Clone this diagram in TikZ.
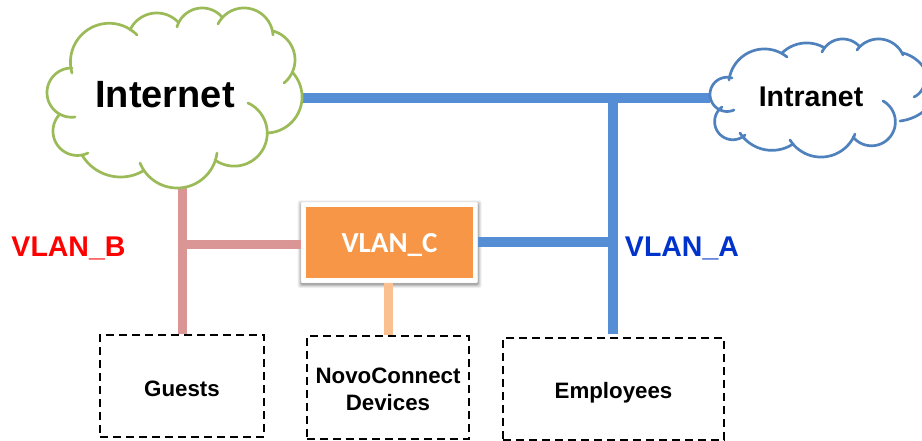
\documentclass[tikz,border=0pt]{standalone}
\usepackage{fontspec}
\setmainfont{Liberation Sans}
\newfontfamily\calib{Carlito}
\definecolor{cgreen}{RGB}{155,187,89}
\definecolor{cblue}{RGB}{79,129,189}
\definecolor{lblue}{RGB}{85,142,213}
\definecolor{lpink}{RGB}{217,150,148}
\definecolor{lpeach}{RGB}{250,192,144}
\definecolor{corange}{RGB}{247,150,70}
\definecolor{vblue}{RGB}{0,51,204}
\tikzset{
  x=1pt,y=-1pt,
  lobeline/.style={line width=2.7pt,line cap=round},
  link/.style={line width=#1},
  link/.default=9.3pt,
  dbox/.style={draw,dashed,line width=1.8pt,dash pattern=on 8pt off 5pt,inner sep=0pt,align=center,font=\bfseries\fontsize{22.3}{27}\selectfont},
  vlabel/.style={inner sep=0pt,font=\bfseries\fontsize{28.5}{32}\selectfont}
}
% circular arc through three points
\newcommand\cloudlobe[6]{%
  \pgfmathsetmacro\lux{(#3-#1)/10}\pgfmathsetmacro\luy{(#4-#2)/10}%
  \pgfmathsetmacro\lvx{(#5-#1)/10}\pgfmathsetmacro\lvy{(#6-#2)/10}%
  \pgfmathsetmacro\ldd{2*(\lux*\lvy-\luy*\lvx)}%
  \pgfmathsetmacro\lcx{(\lvy*(\lux*\lux+\luy*\luy)-\luy*(\lvx*\lvx+\lvy*\lvy))/\ldd}%
  \pgfmathsetmacro\lcy{(\lux*(\lvx*\lvx+\lvy*\lvy)-\lvx*(\lux*\lux+\luy*\luy))/\ldd}%
  \pgfmathsetmacro\lr{10*sqrt(\lcx*\lcx+\lcy*\lcy)}%
  \pgfmathsetmacro\lX{#1+10*\lcx}\pgfmathsetmacro\lY{#2+10*\lcy}%
  \pgfmathsetmacro\laz{atan2(#2-\lY,#1-\lX)}%
  \pgfmathsetmacro\lam{mod(atan2(#4-\lY,#3-\lX)-\laz+720,360)}%
  \pgfmathsetmacro\lab{mod(atan2(#6-\lY,#5-\lX)-\laz+720,360)}%
  \pgfmathsetmacro\laend{\lam<\lab ? \laz+\lab : \laz+\lab-360}%
  \draw plot[variable=\t,domain=\laz:\laend,samples=40] ({\lX+\lr*cos(\t)},{\lY+\lr*sin(\t)});%
}
\begin{document}
\begin{tikzpicture}
\useasboundingbox (0,0) rectangle (922,441);
% invisible cloud extents, used as connector ends
\node[inner sep=0pt,minimum width=254pt,minimum height=180pt] (inetcloud) at (175,98) {};
\node[inner sep=0pt,minimum width=220pt,minimum height=118pt] (intracloud) at (820,98) {};
% boxes
\node[dbox,minimum width=164pt,minimum height=102pt] (guests) at (182,386) {\rule{0pt}{21pt}Guests};
\node[dbox,minimum width=162pt,minimum height=103pt] (novo) at (388,387.5) {\rule{0pt}{19pt}NovoConnect\\Devices};
\node[dbox,minimum width=221pt,minimum height=102pt] (emp) at (613.5,389) {\rule{0pt}{23pt}Employees};
% connectors
\coordinate (tA) at (613,98);
\coordinate (jA) at (613,242);
\coordinate (jB) at (182.3,244.5);
% soft shadow of the box
\foreach \g/\o in {3.5/0.06,2.5/0.08,1.5/0.10,0.5/0.14}
  \fill[black,opacity=\o,rounded corners=1.5pt] (301-\g,204-\g) rectangle (478+\g,284.5+\g);
\node[fill=white,draw=black!6,line width=0.4pt,rounded corners=1pt,minimum width=176.5pt,minimum height=80.5pt,inner sep=0pt] (vlanbox) at (389.3,242.5) {};
\node[fill=corange,minimum width=167.6pt,minimum height=71.6pt,inner sep=0pt,text=white,font=\calib\bfseries\fontsize{29}{32}\selectfont] (vlanc) at (389.5,242.5) {\rule{0pt}{25pt}VLAN\_C};
\draw[link=9.6pt,lblue] (inetcloud.east |- tA) -- (intracloud.west |- tA);
\draw[link=9.6pt,lblue,shorten >=3pt] (tA) -- (tA |- emp.north);
\draw[link,lblue] (vlanbox.east |- jA) -- (jA);
\draw[link,lpink] (jB |- inetcloud.south) -- (jB |- guests.north);
\draw[link,lpink] (jB) -- (vlanbox.west |- jB);
\draw[link,lpeach] (388.7,282.7) coordinate (pk) -- (pk |- novo.north);
% Internet cloud
\begin{scope}[lobeline,cgreen]
\cloudlobe{137}{35}{86}{31}{72}{73}
\cloudlobe{72}{68}{47}{93}{75}{117}
\cloudlobe{60}{114}{53}{132}{88}{153}
\cloudlobe{82}{155}{120}{177}{143}{171}
\cloudlobe{140}{163}{178}{188}{217}{153}
\cloudlobe{215}{160}{258}{156}{248}{103}
\cloudlobe{267}{133}{302}{95}{293}{73}
\cloudlobe{284}{83}{295}{60}{273}{31}
\cloudlobe{273}{35}{245}{8}{218}{24}
\cloudlobe{222}{17}{202}{8}{177}{27}
\cloudlobe{178}{22}{157}{13}{130}{30}
\end{scope}
% Intranet cloud
\begin{scope}[lobeline,cblue]
\cloudlobe{787}{57}{763}{49}{729}{80}
\cloudlobe{732}{78}{710}{95}{734}{110}
\cloudlobe{722}{107}{715}{118}{745}{135}
\cloudlobe{740}{133}{777}{150}{793}{144}
\cloudlobe{790}{140}{823}{157}{855}{134}
\cloudlobe{853}{137}{890}{137}{883}{101}
\cloudlobe{900}{121}{912}{118}{924}{111}
\cloudlobe{914}{97}{919}{93.5}{924}{85}
\cloudlobe{903}{53}{914}{58}{924}{68}
\cloudlobe{903}{55}{878}{39}{857}{50}
\cloudlobe{860}{47}{843}{39}{822}{52}
\cloudlobe{823}{47}{805}{43}{782}{53}
\end{scope}
% labels
\node[inner sep=0pt,font=\bfseries\fontsize{38}{42}\selectfont] (inet) at (165,95) {Internet};
\node[inner sep=0pt,font=\bfseries\fontsize{28.5}{32}\selectfont] (intra) at (811,96.5) {Intranet};
\node[vlabel,text=red] (vb) at (68.5,248) {VLAN\_B};
\node[vlabel,text=vblue] (va) at (682,248) {VLAN\_A};
\end{tikzpicture}
\end{document}
